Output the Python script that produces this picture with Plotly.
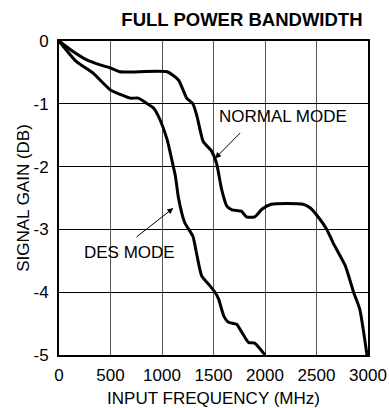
import plotly.graph_objects as go

# Normal mode response
normal_freq = [0, 140, 270, 400, 500, 590, 1050, 1160, 1240, 1300, 1340, 1400, 1480, 1530,
               1580, 1630, 1680, 1770, 1820, 1900, 1970, 2060, 2370, 2440, 2520, 2600,
               2660, 2780, 2860, 2920, 2990]
normal_gain = [0, -0.17, -0.30, -0.38, -0.43, -0.49, -0.49, -0.62, -0.91, -1.0, -1.2, -1.6,
               -1.75, -1.95, -2.37, -2.63, -2.69, -2.71, -2.80, -2.80, -2.68, -2.60, -2.60,
               -2.66, -2.81, -3.0, -3.21, -3.58, -4.0, -4.27, -5.0]

# DES mode response
des_freq = [0, 170, 330, 500, 610, 690, 770, 850, 920, 980, 1050, 1095, 1130, 1160, 1220,
            1300, 1340, 1385, 1466, 1515, 1550, 1600, 1645, 1725, 1775, 1840, 1900, 2000]
des_gain = [0, -0.33, -0.51, -0.78, -0.86, -0.91, -0.91, -0.99, -1.07, -1.25, -1.57, -1.89,
            -2.15, -2.5, -2.89, -3.11, -3.42, -3.74, -3.9, -4.0, -4.11, -4.38, -4.48, -4.51,
            -4.64, -4.80, -4.81, -5.0]

x_ticks = [0, 500, 1000, 1500, 2000, 2500, 3000]
y_ticks = [0, -1, -2, -3, -4, -5]
y_tick_text = ["0", "-1", "-2", "-3", "-4", "-5"]

FONT = "Liberation Sans, Arial, sans-serif"

fig = go.Figure()
for fx, gy in [(normal_freq, normal_gain), (des_freq, des_gain)]:
    fig.add_trace(go.Scatter(x=fx, y=gy, mode="lines",
                             line=dict(color="black", width=3, shape="spline", smoothing=0.5),
                             showlegend=False, hoverinfo="skip"))

fig.update_layout(
    width=389, height=408,
    margin=dict(l=59, r=21, t=41, b=53, autoexpand=False),
    paper_bgcolor="white", plot_bgcolor="white",
    font=dict(family=FONT, size=17, color="black"),
    title=dict(text="<b>FULL POWER BANDWIDTH</b>", xref="container", x=0.622, xanchor="center",
               yref="container", y=0.953, yanchor="middle",
               font=dict(family=FONT, size=18.5, color="black")),
)

fig.update_xaxes(range=[0, 3000], tickvals=x_ticks, ticks="", showgrid=True,
                 gridcolor="#555555", gridwidth=1, zeroline=False, automargin=False,
                 showline=True, linecolor="black", linewidth=2, mirror=True,
                 ticklabelstandoff=4,
                 title=dict(text="INPUT FREQUENCY (MHz)", standoff=12,
                            font=dict(family=FONT, size=17)),
                 tickfont=dict(family=FONT, size=17))
fig.update_yaxes(range=[-5, 0], tickvals=y_ticks, ticktext=y_tick_text, ticks="",
                 showgrid=True, gridcolor="black", gridwidth=1, zeroline=False, automargin=False,
                 showline=True, linecolor="black", linewidth=2, mirror=True,
                 ticklabelstandoff=5,
                 title=dict(text="SIGNAL GAIN (DB)", standoff=0,
                            font=dict(family=FONT, size=17)),
                 tickfont=dict(family=FONT, size=17))

fig.add_annotation(x=1515, y=-1.87, ax=1774, ay=-1.44, axref="x", ayref="y",
                   showarrow=True, arrowhead=2, arrowsize=1.2, arrowwidth=1, arrowcolor="black",
                   text="")
fig.add_annotation(x=2175, y=-1.21, text="NORMAL MODE", showarrow=False,
                   font=dict(family=FONT, size=17, color="black"))
fig.add_annotation(x=1110, y=-2.66, ax=738, ay=-3.14, axref="x", ayref="y",
                   showarrow=True, arrowhead=2, arrowsize=1.2, arrowwidth=1, arrowcolor="black",
                   text="")
fig.add_annotation(x=680, y=-3.36, text="DES MODE", showarrow=False,
                   font=dict(family=FONT, size=17, color="black"))

fig.write_html("out.html")
